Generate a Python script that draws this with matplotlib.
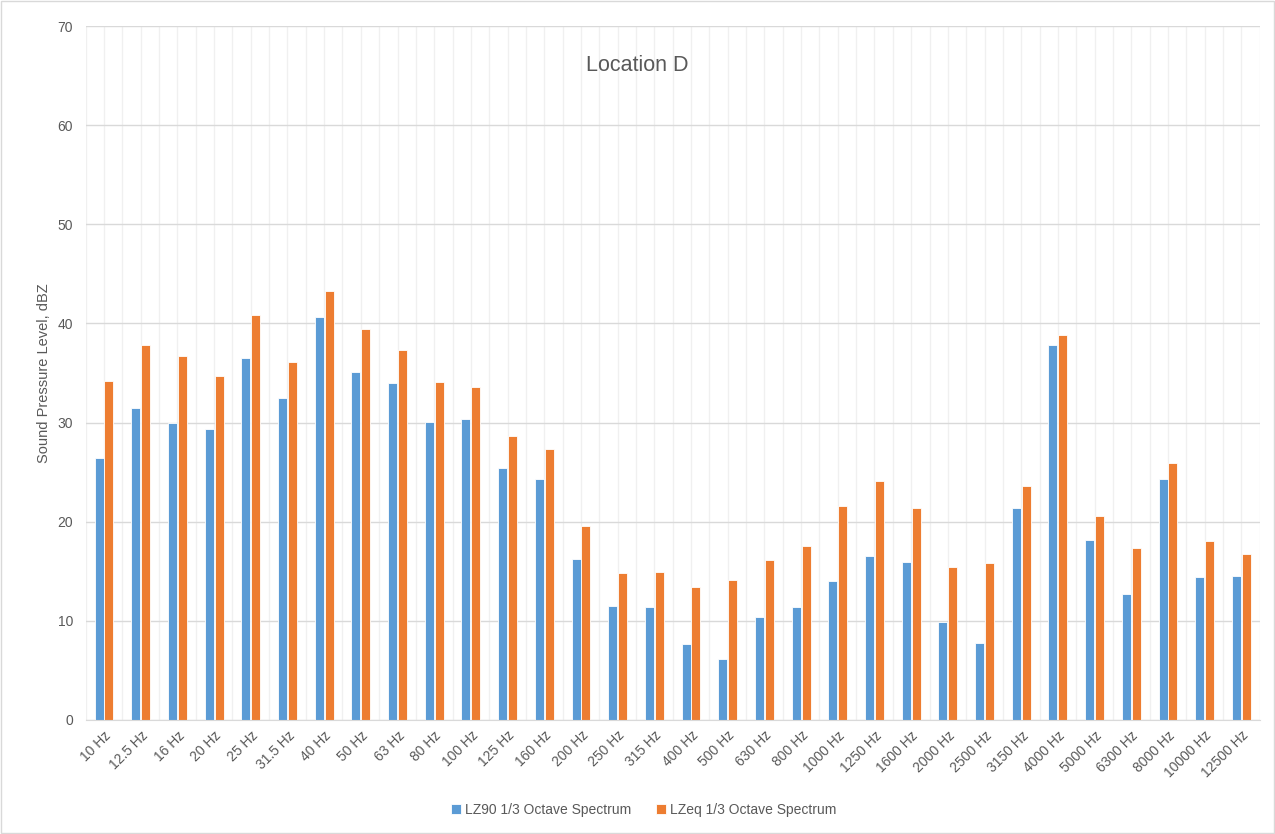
import numpy as np
from matplotlib import pyplot as plt

bands = [
    "10 Hz", "12.5 Hz", "16 Hz", "20 Hz", "25 Hz", "31.5 Hz", "40 Hz", "50 Hz",
    "63 Hz", "80 Hz", "100 Hz", "125 Hz", "160 Hz", "200 Hz", "250 Hz", "315 Hz",
    "400 Hz", "500 Hz", "630 Hz", "800 Hz", "1000 Hz", "1250 Hz", "1600 Hz",
    "2000 Hz", "2500 Hz", "3150 Hz", "4000 Hz", "5000 Hz", "6300 Hz", "8000 Hz",
    "10000 Hz", "12500 Hz",
]
lz90 = [
    26.4, 31.5, 30.0, 29.4, 36.5, 32.5, 40.6, 35.1, 34.0, 30.1, 30.4, 25.4,
    24.3, 16.2, 11.5, 11.4, 7.7, 6.2, 10.4, 11.4, 14.0, 16.5, 15.9, 9.9,
    7.8, 21.4, 37.8, 18.2, 12.7, 24.3, 14.4, 14.5,
]
lzeq = [
    34.2, 37.8, 36.7, 34.7, 40.9, 36.1, 43.3, 39.4, 37.3, 34.1, 33.6, 28.6,
    27.3, 19.6, 14.8, 14.9, 13.4, 14.1, 16.1, 17.5, 21.6, 24.1, 21.4, 15.4,
    15.8, 23.6, 38.8, 20.6, 17.3, 25.9, 18.1, 16.7,
]

plt.rcParams["font.family"] = ["Liberation Sans", "DejaVu Sans"]
text_col = "#595959"

fig = plt.figure(figsize=(12.75, 8.34), dpi=100)
fig.patches.append(
    plt.Rectangle((0.001, 0.001), 0.998, 0.998, transform=fig.transFigure,
                  fill=False, edgecolor="#d9d9d9", linewidth=1)
)
ax = fig.add_axes([0.0672, 0.1367, 0.9208, 0.8321])

x = np.arange(len(bands))
w = 0.245
ax.bar(x - 0.135, lz90, width=w, color="#5B9BD5", edgecolor="white",
       linewidth=0.6, label="LZ90 1/3 Octave Spectrum", zorder=3)
ax.bar(x + 0.135, lzeq, width=w, color="#ED7D31", edgecolor="white",
       linewidth=0.6, label="LZeq 1/3 Octave Spectrum", zorder=3)

ax.set_xlim(-0.5, len(bands) - 0.5)
ax.set_ylim(0, 70)
ax.set_yticks(range(0, 71, 10))
ax.yaxis.grid(True, color="#d9d9d9", linewidth=1, zorder=0)
# light vertical lines at category centres and boundaries
for v in np.arange(-0.5, len(bands), 0.5):
    ax.axvline(v, color="#f0f0f0", linewidth=1, zorder=1)

ax.set_xticks(x)
ax.set_xticklabels(bands, rotation=45, ha="right", rotation_mode="anchor",
                   fontsize=10, color=text_col)
ax.tick_params(axis="both", length=0, labelcolor=text_col, labelsize=10)
ax.tick_params(axis="x", pad=6)
ax.tick_params(axis="y", pad=9)
for s in ["top", "right", "left"]:
    ax.spines[s].set_visible(False)
ax.spines["bottom"].set_color("#d9d9d9")
ax.spines["bottom"].set_zorder(4)

ax.set_ylabel("Sound Pressure Level, dBZ", fontsize=10.5, color=text_col,
              labelpad=5)
fig.text(0.5, 0.921, "Location D", ha="center", va="center", fontsize=15.5,
         color=text_col)

fig.legend(loc="center", bbox_to_anchor=(0.505, 0.029), ncol=2, frameon=False,
           fontsize=10, labelcolor=text_col, handlelength=0.7,
           handleheight=0.7, handletextpad=0.3, columnspacing=1.8)

fig.savefig("out.png", dpi=100)
